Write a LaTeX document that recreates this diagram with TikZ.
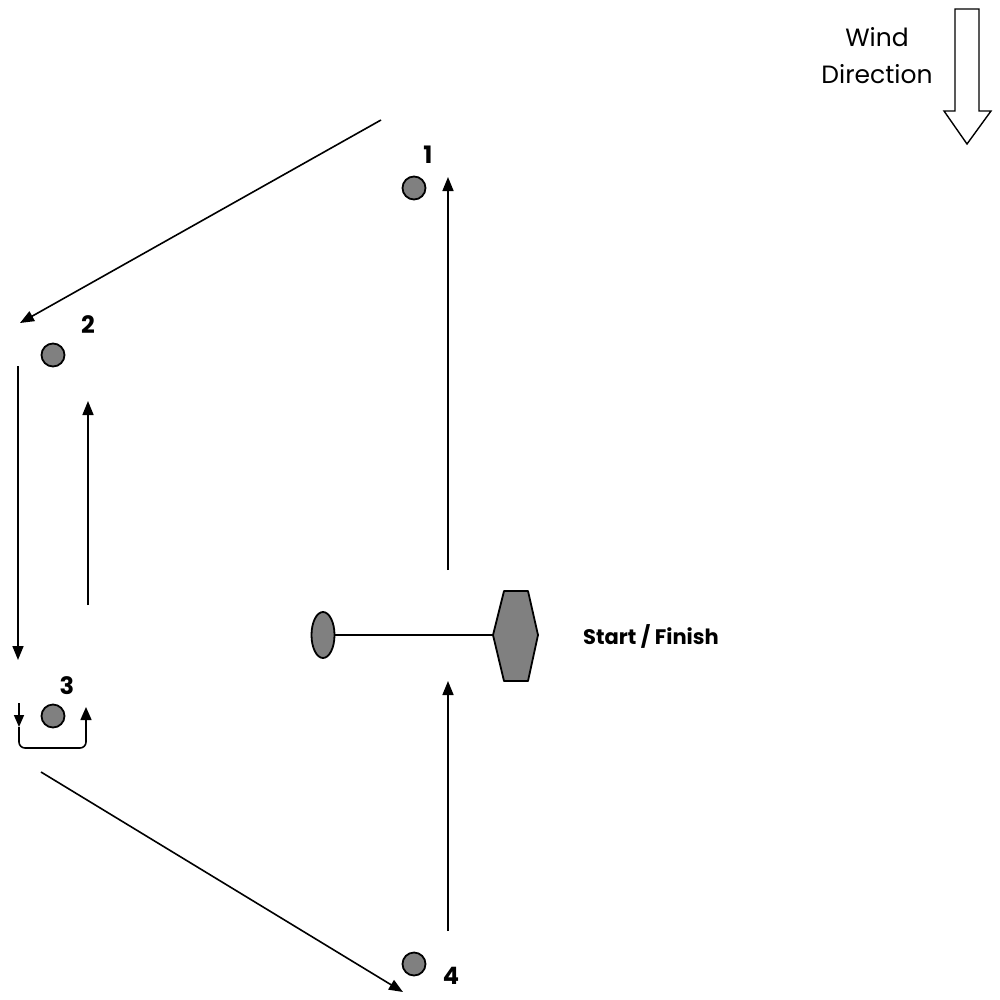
\documentclass[tikz,border=0pt]{standalone}
\usepackage{fontspec}
\setmainfont{Poppins}
\usetikzlibrary{arrows.meta,shapes.geometric}
\begin{document}
\begin{tikzpicture}[x=1pt,y=-1pt,
  line width=1.6pt,
  arr/.style={-{Triangle[width=11pt,length=14pt]}},
  buoy/.style={circle,draw,fill=gray,minimum size=23pt,inner sep=0pt,line width=1.8pt},
  lbl/.style={font=\fontsize{24}{26}\selectfont\bfseries},
  sail/.style={draw,fill=gray,line width=1.8pt,line join=round}]
\useasboundingbox (0,0) rectangle (1000,999);
% wind
\draw[line width=1.4pt,line join=miter] (955,9) -- (979,9) -- (979,111) -- (991,111) -- (967,144) -- (944,111) -- (955,111) -- cycle;
\node[font=\fontsize{25}{37}\selectfont,align=center] (wind) at (877,56) {Wind\\Direction};
% buoys
\node[buoy] (m1) at (414,188) {};
\node[lbl] (l1) at (428,155) {1};
\node[buoy] (m2) at (53,355) {};
\node[lbl] (l2) at (88,325) {2};
\node[buoy] (m3) at (53,716) {};
\node[lbl] (l3) at (67,686) {3};
\node[buoy] (m4) at (414,964) {};
\node[lbl] (l4) at (451,976) {4};
% legs
\coordinate (a1s) at (448,570); \coordinate (a1e) at (448,177);
\draw[arr] (a1s) -- (a1e);
\coordinate (a2s) at (381,120); \coordinate (a2e) at (20,323);
\draw[arr] (a2s) -- (a2e);
\coordinate (a3s) at (18,366); \coordinate (a3e) at (18,660);
\draw[arr] (a3s) -- (a3e);
\coordinate (a4s) at (88,605); \coordinate (a4e) at (88,401);
\draw[arr] (a4s) -- (a4e);
\coordinate (a5s) at (41,772); \coordinate (a5e) at (403,992);
\draw[arr] (a5s) -- (a5e);
\coordinate (a6s) at (448,931); \coordinate (a6e) at (448,681);
\draw[arr] (a6s) -- (a6e);
% rounding of mark 3
\coordinate (r0) at (19,703); \coordinate (r1) at (19,727);
\draw[-{Triangle[width=10pt,length=12pt]}] (r0) -- (r1);
\coordinate (r2) at (86,707);
\draw[-{Triangle[width=11pt,length=13pt]},rounded corners=6pt] (r1) -- (19,748) -- (86,748) -- (r2);
% start line
\node[ellipse,draw,fill=gray,line width=1.8pt,minimum width=23pt,minimum height=46pt,inner sep=0pt] (pin) at (323,635) {};
\draw[sail] (493,635) -- (504,591) -- (528,591) -- (538,635) -- (528,681) -- (504,681) -- cycle;
\coordinate (boat) at (493,635);
\draw (pin.east) -- (boat);
\node[font=\fontsize{21}{24}\selectfont\bfseries] (sf) at (651,636) {Start / Finish};
\end{tikzpicture}
\end{document}
